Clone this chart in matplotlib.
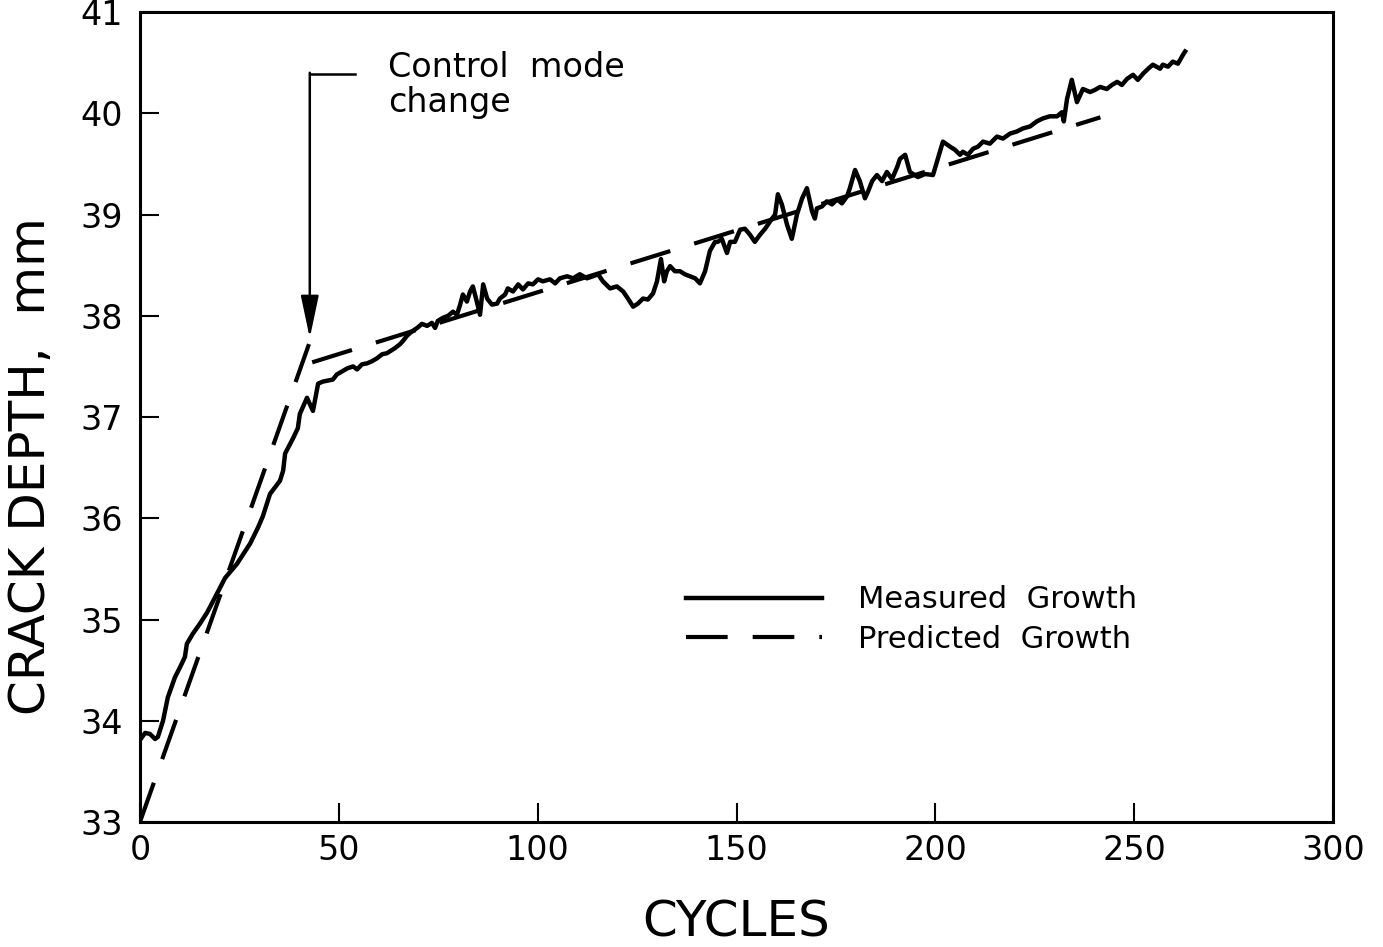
import numpy as np
import matplotlib
matplotlib.use('Agg')
from matplotlib import pyplot as plt

# measured crack depth vs. cycles
meas_cycles = [0, 1.3, 2.5, 3.8, 4.5, 5.8, 7.0, 8.8, 10.1, 11.3, 11.8, 13.3, 15.1, 16.9,
               18.9, 21.4, 24.4, 27.7, 29.7, 30.9, 32.7, 35.2, 36.0, 36.5, 38.5, 39.7,
               40.2, 42.0, 43.5, 44.8, 46.0, 48.5, 49.5, 50.8, 52.1, 53.6, 54.6, 55.8,
               57.1, 58.3, 59.6, 60.9, 62.1, 62.9, 64.1, 65.4, 66.1, 67.1, 67.9, 68.6,
               69.7, 70.9, 72.2, 73.4, 74.2, 74.9, 76.2, 77.5, 78.7, 79.7, 80.5, 81.2,
               82.2, 83.0, 83.7, 84.7, 85.5, 86.3, 87.3, 88.5, 89.8, 90.5, 91.8, 92.5,
               93.8, 95.1, 96.3, 97.6, 98.8, 100.1, 101.3, 103.1, 104.4, 105.6, 107.4,
               108.9, 110.6, 112.4, 113.9, 115.2, 116.4, 118.2, 119.9, 121.5, 122.7,
               124.0, 125.2, 126.5, 127.7, 129.0, 130.0, 131.0, 131.8, 132.5, 133.3,
               134.5, 135.8, 137.0, 138.3, 139.6, 140.8, 142.1, 143.3, 144.6, 145.3,
               146.3, 147.6, 148.4, 149.6, 150.9, 152.1, 153.4, 154.6, 155.9, 157.2,
               158.4, 159.7, 160.4, 161.4, 162.7, 163.9, 165.2, 166.5, 167.7, 169.0,
               169.7, 170.2, 171.5, 172.7, 174.0, 175.3, 176.5, 177.8, 178.5, 179.8,
               181.0, 182.3, 183.1, 184.1, 185.3, 186.6, 187.8, 189.1, 190.4, 191.1,
               192.4, 193.6, 195.6, 197.4, 199.4, 201.9, 203.7, 204.9, 206.2, 206.9,
               208.2, 209.5, 210.7, 212.0, 213.7, 215.5, 217.0, 218.8, 220.5, 222.0,
               223.8, 225.5, 227.1, 228.8, 230.6, 231.8, 232.3, 233.1, 234.3, 235.6,
               236.4, 237.1, 238.9, 240.1, 241.4, 243.1, 244.4, 245.7, 246.9, 248.2,
               249.7, 250.9, 252.2, 253.5, 254.7, 256.5, 257.2, 258.5, 259.7, 261.0,
               262.3, 262.8]
meas_depth = [33.81, 33.88, 33.87, 33.82, 33.84, 34.00, 34.23, 34.43, 34.53, 34.63, 34.76,
              34.86, 34.96, 35.07, 35.22, 35.41, 35.55, 35.75, 35.91, 36.02, 36.24, 36.37,
              36.47, 36.64, 36.79, 36.89, 37.03, 37.19, 37.06, 37.33, 37.35, 37.37, 37.42,
              37.45, 37.48, 37.50, 37.47, 37.52, 37.53, 37.55, 37.58, 37.62, 37.63, 37.65,
              37.68, 37.72, 37.75, 37.80, 37.83, 37.85, 37.88, 37.92, 37.90, 37.93, 37.88,
              37.95, 37.98, 38.00, 38.04, 38.01, 38.11, 38.21, 38.14, 38.24, 38.29, 38.14,
              38.01, 38.31, 38.17, 38.11, 38.12, 38.17, 38.21, 38.27, 38.24, 38.31, 38.26,
              38.32, 38.31, 38.36, 38.34, 38.36, 38.32, 38.37, 38.39, 38.37, 38.41, 38.37,
              38.39, 38.41, 38.34, 38.27, 38.29, 38.24, 38.17, 38.09, 38.12, 38.17, 38.16,
              38.22, 38.34, 38.56, 38.34, 38.44, 38.49, 38.44, 38.44, 38.41, 38.39, 38.37,
              38.32, 38.44, 38.64, 38.73, 38.73, 38.76, 38.62, 38.73, 38.73, 38.85, 38.86,
              38.80, 38.73, 38.80, 38.86, 38.93, 39.00, 39.20, 39.10, 38.90, 38.76, 39.00,
              39.16, 39.26, 39.03, 38.96, 39.06, 39.08, 39.13, 39.10, 39.15, 39.11, 39.18,
              39.26, 39.44, 39.33, 39.16, 39.23, 39.33, 39.39, 39.33, 39.42, 39.35, 39.47,
              39.55, 39.59, 39.42, 39.37, 39.40, 39.39, 39.72, 39.67, 39.64, 39.59, 39.62,
              39.59, 39.65, 39.67, 39.72, 39.70, 39.77, 39.75, 39.80, 39.82, 39.85, 39.87,
              39.92, 39.95, 39.97, 39.97, 40.01, 39.92, 40.14, 40.33, 40.11, 40.18, 40.24,
              40.21, 40.23, 40.26, 40.24, 40.28, 40.31, 40.28, 40.34, 40.38, 40.33, 40.39,
              40.44, 40.48, 40.44, 40.48, 40.46, 40.51, 40.49, 40.58, 40.61]

# predicted growth, two branches (before / after control mode change)
pred1_cycles = [0, 42.5]
pred1_depth = [33.0, 37.72]
pred2_cycles = [43.3, 241.5]
pred2_depth = [37.54, 39.96]

xticks = [0, 50, 100, 150, 200, 250, 300]
yticks = [33, 34, 35, 36, 37, 38, 39, 40, 41]

fig = plt.figure(figsize=(13.83, 9.47), dpi=100)
ax = fig.add_axes([0.1012, 0.132, 0.8627, 0.8553])

dash = (10, 6)
l1, = ax.plot(meas_cycles, meas_depth, color='black', lw=3.2, solid_joinstyle='round',
              label='Measured  Growth')
l2, = ax.plot(pred1_cycles, pred1_depth, color='black', lw=3, dashes=dash,
              label='Predicted  Growth')
ax.plot(pred2_cycles, pred2_depth, color='black', lw=3, dashes=dash)

ax.set_xlim(0, 300)
ax.set_ylim(33, 41)
ax.set_xticks(xticks)
ax.set_yticks(yticks)
ax.tick_params(direction='in', length=14, width=1.5, labelsize=24)
ax.tick_params(axis='y', pad=12)
ax.tick_params(axis='x', pad=9)
for lab in ax.get_yticklabels():
    lab.set_va('center_baseline')
for s in ax.spines.values():
    s.set_linewidth(2.2)

ax.set_xlabel('CYCLES', fontsize=36, labelpad=22)
ax.set_ylabel('CRACK DEPTH,  mm', fontsize=36)
ax.yaxis.set_label_coords(-0.071, 0.44)

# control mode change marker
ax.plot([54.1, 42.7], [40.39, 40.39], color='black', lw=1.8)
ax.annotate('', xy=(42.7, 37.78), xytext=(42.7, 40.40),
            arrowprops=dict(arrowstyle='-|>,head_length=2.6,head_width=0.55',
                            color='black', lw=1.8, shrinkA=0, shrinkB=0))
ax.text(62.4, 40.62, 'Control  mode\nchange', fontsize=24, va='top', ha='left',
        linespacing=1.1)

ax.legend(handles=[l1, l2], loc='upper left', bbox_to_anchor=(0.4577, 0.292),
          frameon=False, fontsize=22, handlelength=4.45, handletextpad=1.18,
          labelspacing=0.35, borderpad=0, borderaxespad=0)

plt.savefig('out.png', dpi=100)
